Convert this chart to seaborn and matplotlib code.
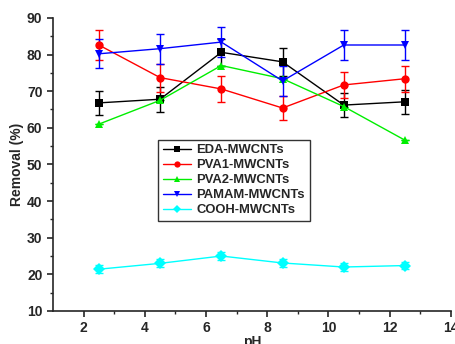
import numpy as np
import pandas as pd
import matplotlib
matplotlib.use('Agg')
import matplotlib.pyplot as plt
import seaborn as sns

# ── Data ──────────────────────────────────────────────────────────────────────
ph = [2.5, 4.5, 6.5, 8.5, 10.5, 12.5]

eda   = [66.8, 67.8, 80.6, 78.0, 66.2, 67.1]
pva1  = [82.6, 73.7, 70.6, 65.4, 71.7, 73.4]
pva2  = [61.0, 67.5, 77.0, 73.4, 65.8, 56.6]
pamam = [80.2, 81.6, 83.4, 72.8, 82.6, 82.6]
cooh  = [21.4, 23.0, 25.0, 23.1, 22.0, 22.4]

eda_err   = [3.3, 3.4, 3.6, 3.8, 3.2, 3.2]
pva1_err  = [4.0, 3.8, 3.6, 3.3, 3.5, 3.6]
pva2_err  = [0.0, 0.0, 0.0, 0.0, 0.0, 0.0]
pamam_err = [4.0, 4.1, 4.2, 4.0, 4.1, 4.2]
cooh_err  = [1.1, 1.1, 1.1, 1.0, 1.0, 1.0]

labels  = ['EDA-MWCNTs', 'PVA1-MWCNTs', 'PVA2-MWCNTs', 'PAMAM-MWCNTs', 'COOH-MWCNTs']
series  = [eda, pva1, pva2, pamam, cooh]
errors  = [eda_err, pva1_err, pva2_err, pamam_err, cooh_err]
colors  = ['black', 'red', '#00ee00', 'blue', 'cyan']
markers = ['s', 'o', '^', 'v', 'D']

df = pd.DataFrame({
    'pH': ph * len(labels),
    'Removal': sum(series, []),
    'err': sum(errors, []),
    'sample': [lab for lab in labels for _ in ph],
})

# ── Plot ──────────────────────────────────────────────────────────────────────
sns.set_style('ticks')
plt.rcParams['font.family'] = ['Liberation Sans', 'DejaVu Sans']
plt.rcParams['font.weight'] = 'bold'

fig = plt.figure(figsize=(4.56, 3.44), dpi=100)
ax = fig.add_axes([0.116, 0.096, 0.873, 0.852])

for lab, col in zip(labels, colors):
    sub = df[df['sample'] == lab]
    ax.errorbar(sub['pH'], sub['Removal'], yerr=sub['err'], fmt='none',
                ecolor=col, elinewidth=1.0, capsize=3, capthick=1.0, zorder=2)

sns.lineplot(data=df, x='pH', y='Removal', hue='sample', style='sample',
             hue_order=labels, style_order=labels,
             palette=dict(zip(labels, colors)),
             markers=dict(zip(labels, markers)), dashes=False,
             markersize=6, markeredgewidth=0, linewidth=1.0,
             ax=ax, zorder=3)

ax.set_xlim(1, 14)
ax.set_ylim(10, 90)
ax.set_xticks([2, 4, 6, 8, 10, 12, 14])
ax.set_yticks(np.arange(10, 91, 10))
ax.set_xticks(np.arange(3, 14, 2), minor=True)
ax.set_yticks(np.arange(15, 90, 10), minor=True)
ax.tick_params(which='major', direction='out', length=4, width=1.2,
               labelsize=10)
ax.tick_params(which='minor', direction='out', length=2.5, width=1.0)
for lbl in ax.get_xticklabels() + ax.get_yticklabels():
    lbl.set_fontweight('bold')

sns.despine(ax=ax)
for sp in ['left', 'bottom']:
    ax.spines[sp].set_linewidth(1.2)

ax.set_xlabel('pH', fontsize=10, fontweight='bold', labelpad=0)
ax.set_ylabel('Removal (%)', fontsize=10, fontweight='bold', labelpad=2)

leg = ax.legend(loc='lower left', bbox_to_anchor=(0.264, 0.307),
                borderaxespad=0, frameon=True, fancybox=False,
                edgecolor='black', fontsize=9.4, handlelength=2.2,
                borderpad=0.35, labelspacing=0.22, handletextpad=0.4,
                markerscale=0.75)
leg.get_frame().set_linewidth(1.0)
for t in leg.get_texts():
    t.set_fontweight('bold')

fig.savefig('out.png', dpi=100)
